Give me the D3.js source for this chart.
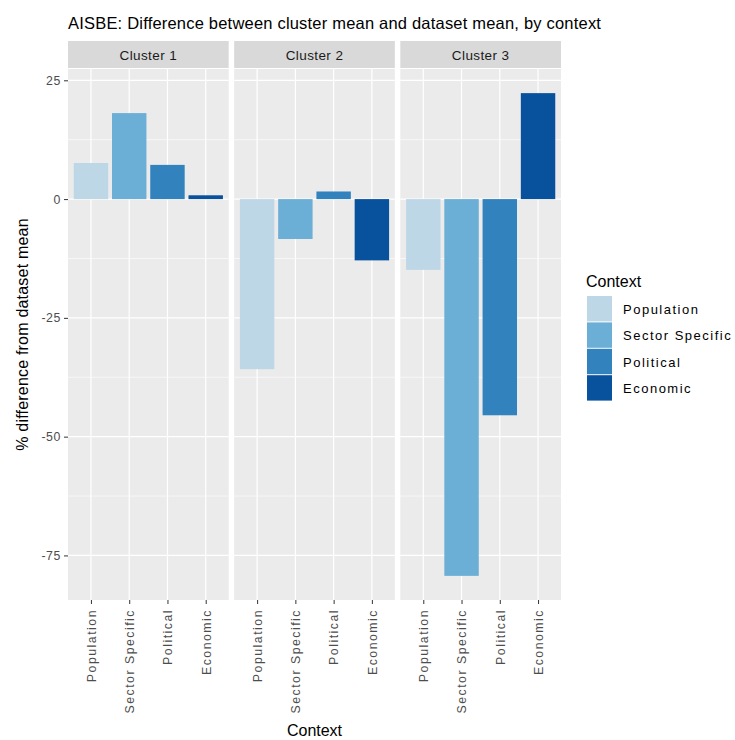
<!DOCTYPE html>
<html><head><meta charset="utf-8">
<script src="https://cdn.jsdelivr.net/npm/d3@7"></script>
<style>
body{margin:0;background:#fff;}
text{font-family:"Liberation Sans",Arial,sans-serif;}
</style></head>
<body><svg id="c" width="735" height="740"></svg>
<script>
const clusters = ["Cluster 1","Cluster 2","Cluster 3"];
const contexts = ["Population","Sector Specific","Political","Economic"];
const cluster1 = [7.6, 18.1, 7.2, 0.8];
const cluster2 = [-35.8, -8.4, 1.6, -12.9];
const cluster3 = [-14.9, -79.3, -45.5, 22.3];
const yTicks = [25, 0, -25, -50, -75];
const colors = ["#BDD7E7","#6BAED6","#3182BD","#08519C"];
const titleText = "AISBE: Difference between cluster mean and dataset mean, by context";

const values = [cluster1, cluster2, cluster3];
const svg = d3.select("#c");

const plotL = 68, plotR = 561, gap = 5.5;
const panelTop = 69, panelBot = 600;
const stripTop = 41, stripBot = 68;
const pw = (plotR - plotL - 2*gap)/3;

const all = values.flat();
const mn = Math.min(0, d3.min(all)), mx = Math.max(0, d3.max(all));
const ex = (mx - mn)*0.05;
const y = d3.scaleLinear().domain([mn-ex, mx+ex]).range([panelBot, panelTop]);

// title
svg.append("text").attr("x", plotL).attr("y", 29).attr("font-size", 16.5).attr("letter-spacing",0.2)
  .attr("fill","#000").text(titleText);

clusters.forEach((cl, i) => {
  const x0 = plotL + i*(pw+gap);
  const g = svg.append("g").attr("transform", `translate(${x0},0)`);
  const x = d3.scalePoint().domain(contexts).range([0, pw]).padding(0.6);
  const step = x.step();
  g.append("rect").attr("x",0).attr("y",panelTop).attr("width",pw).attr("height",panelBot-panelTop).attr("fill","#EBEBEB");
  const minor = d3.range(-87.5, 30, 12.5).filter(v => !yTicks.includes(v) && v>=y.domain()[0] && v<=y.domain()[1]);
  g.selectAll(".mn").data(minor).join("line").attr("x1",0).attr("x2",pw)
    .attr("y1",d=>y(d)).attr("y2",d=>y(d)).attr("stroke","#fff").attr("stroke-width",0.6);
  g.selectAll(".mj").data(yTicks).join("line").attr("x1",0).attr("x2",pw)
    .attr("y1",d=>y(d)).attr("y2",d=>y(d)).attr("stroke","#fff").attr("stroke-width",1.2);
  g.selectAll(".vx").data(contexts).join("line").attr("x1",d=>x(d)).attr("x2",d=>x(d))
    .attr("y1",panelTop).attr("y2",panelBot).attr("stroke","#fff").attr("stroke-width",1.2);
  const bw = step*0.9;
  g.selectAll(".bar").data(values[i]).join("rect")
    .attr("x",(d,j)=>x(contexts[j]) - bw/2).attr("width",bw)
    .attr("y",d=>y(Math.max(0,d))).attr("height",d=>Math.abs(y(d)-y(0)))
    .attr("fill",(d,j)=>colors[j]);
  g.append("rect").attr("x",0).attr("y",stripTop).attr("width",pw).attr("height",stripBot-stripTop).attr("fill","#D9D9D9");
  g.append("text").attr("x",pw/2).attr("y",(stripTop+stripBot)/2+5).attr("text-anchor","middle")
    .attr("font-size",13.5).attr("fill","#1A1A1A").attr("letter-spacing",0.4).text(cl);
  const xa = g.append("g").attr("transform",`translate(0,${panelBot})`)
    .call(d3.axisBottom(x).tickSize(4).tickPadding(3));
  xa.select(".domain").remove();
  xa.selectAll(".tick line").attr("stroke","#333").attr("stroke-width",1);
  xa.selectAll(".tick text").attr("transform","rotate(-90)").attr("text-anchor","end")
    .attr("x",-9).attr("y",0).attr("dy","0.35em")
    .attr("font-size",12.3).attr("letter-spacing",1.5).attr("fill","#4D4D4D")
    .attr("font-family","'Liberation Sans',Arial,sans-serif");
});

const ya = svg.append("g").attr("transform",`translate(${plotL},0)`)
  .call(d3.axisLeft(y).tickValues(yTicks).tickFormat(d => String(d)).tickSize(4).tickPadding(3));
ya.select(".domain").remove();
ya.selectAll(".tick line").attr("stroke","#333");
ya.selectAll(".tick text").attr("font-size",12.3).attr("fill","#4D4D4D").attr("letter-spacing",0.6)
  .attr("font-family","'Liberation Sans',Arial,sans-serif");

svg.append("text").attr("transform",`translate(28,${(panelTop+panelBot)/2}) rotate(-90)`)
  .attr("text-anchor","middle").attr("font-size",16).attr("letter-spacing",0.2).attr("fill","#000")
  .text("% difference from dataset mean");
svg.append("text").attr("x",(plotL+plotR)/2).attr("y",736).attr("text-anchor","middle")
  .attr("font-size",16).attr("fill","#000").text("Context");

const lg = svg.append("g").attr("transform","translate(587,0)");
lg.append("text").attr("x",-1).attr("y",287).attr("font-size",16).attr("fill","#000").text("Context");
const kh = 26.4;
contexts.forEach((c, j) => {
  lg.append("rect").attr("x",0).attr("y",296 + j*kh).attr("width",25).attr("height",kh-1).attr("fill",colors[j]);
  lg.append("text").attr("x",36).attr("y",296 + j*kh + kh/2 + 4.5).attr("font-size",13)
    .attr("letter-spacing",1.5).attr("fill","#000").text(c);
});
</script></body></html>
